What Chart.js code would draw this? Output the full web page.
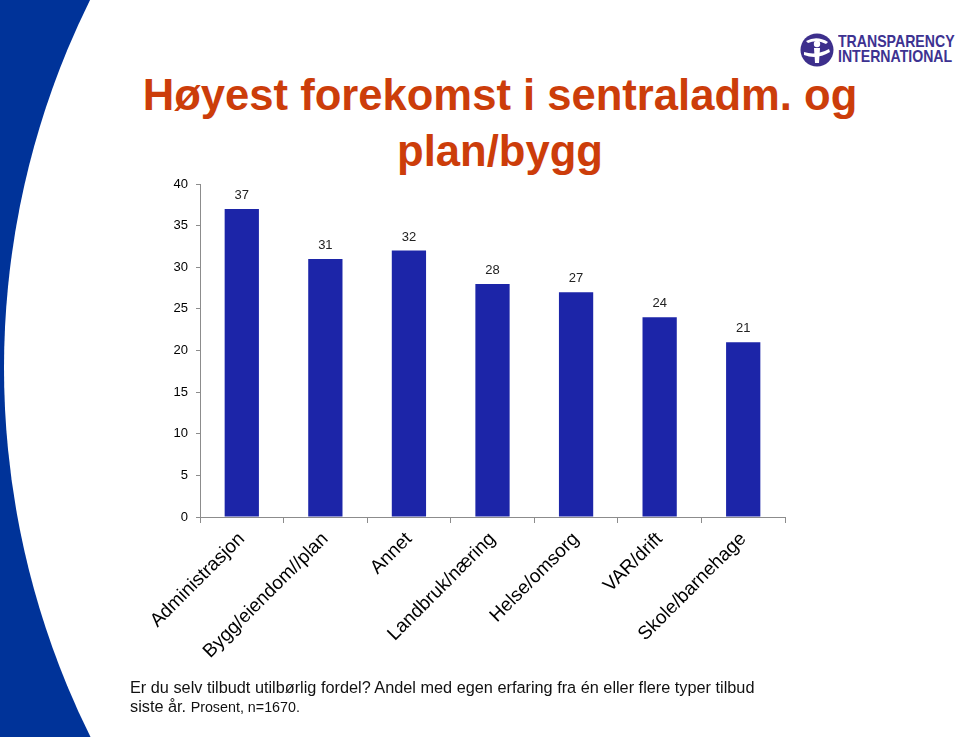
<!DOCTYPE html>
<html>
<head>
<meta charset="utf-8">
<script src="https://cdn.jsdelivr.net/npm/chart.js@4.4.1/dist/chart.umd.min.js"></script>
<style>
    body { margin: 0; background: #fff; }
    #slide { position: relative; width: 959px; height: 737px; overflow: hidden; font-family: "Liberation Sans", Arial, sans-serif; }
    #bg { position: absolute; left: 0; top: 0; }
    #chartBox { position: absolute; left: 0; top: 0; width: 959px; height: 737px; }
    #title { position: absolute; left: 100px; width: 800px; top: 67px; text-align: center; color: #cc3d0a; font-weight: bold; font-size: 43.6px; line-height: 56px; }
    #note { position: absolute; left: 130px; top: 678px; font-size: 16.3px; line-height: 19px; color: #111; }
    #note .small { font-size: 14.3px; }
    #logo { position: absolute; left: 800px; top: 33px; }
    #logoText { position: absolute; left: 838px; top: 34px; color: #3d3291; font-weight: bold; font-size: 17px; line-height: 15px; transform: scaleX(0.83); transform-origin: left top; white-space: nowrap; }
</style>
</head>
<body>
<div id="slide">
    <svg id="bg" width="959" height="737">
        <rect x="0" y="0" width="200" height="737" fill="#003399"/>
        <circle cx="834" cy="368" r="830" fill="#fff"/>
    </svg>
    <svg id="logo" width="34" height="34" viewBox="0 0 34 34">
        <circle cx="17" cy="17" r="16.5" fill="#3d2f8c"/>
        <path d="M6 8 Q17 2 28 9 L26 11 Q17 6 8 10 Z" fill="#fff"/>
        <circle cx="17" cy="11" r="3.2" fill="#fff"/>
        <path d="M14 15 L20 15 L19 30 L15 30 Z" fill="#fff"/>
        <path d="M4 19 Q16 23 29 16 L30 19 Q17 27 4 22 Z" fill="#fff"/>
    </svg>
    <div id="logoText">TRANSPARENCY<br>INTERNATIONAL</div>
    <div id="title">Høyest forekomst i sentraladm. og<br>plan/bygg</div>
    <div id="chartBox"><canvas id="myChart"></canvas></div>
    <div id="note">Er du selv tilbudt utilbørlig fordel? Andel med egen erfaring fra én eller flere typer tilbud<br>siste år. <span class="small">Prosent, n=1670.</span></div>
</div>
<script>
    //chart data
    const labels = [
        'Administrasjon',
        'Bygg/eiendom//plan',
        'Annet',
        'Landbruk/næring',
        'Helse/omsorg',
        'VAR/drift',
        'Skole/barnehage'
    ];
    const values = [37, 31, 32, 28, 27, 24, 21];
    const yTicks = [0, 5, 10, 15, 20, 25, 30, 35, 40];

    const barColor = "#1c25a8";
    const axisColor = "#8c8c8c";
    const fontFamily = '"Liberation Sans", Arial, sans-serif';

    //draws the value above every bar
    const valueLabels = {
        id: 'valueLabels',
        afterDatasetsDraw(chart) {
            const ctx = chart.ctx;
            const meta = chart.getDatasetMeta(0);
            ctx.save();
            ctx.font = '13px ' + fontFamily;
            ctx.fillStyle = '#222';
            ctx.textAlign = 'center';
            ctx.textBaseline = 'bottom';
            meta.data.forEach((bar, i) => {
                ctx.fillText(values[i], bar.x, bar.y - 7);
            });
            ctx.restore();
        }
    };

    const data = {
        labels: labels,
        datasets: [{
            data: values,
            backgroundColor: barColor,
            borderWidth: 0,
            categoryPercentage: 1,
            barPercentage: 0.41
        }]
    };

    const config = {
        type: 'bar',
        data,
        options: {
            responsive: false,
            animation: false,
            layout: {
                padding: { left: 160, right: 174, top: 184, bottom: 0 }
            },
            plugins: {
                legend: { display: false },
                tooltip: { enabled: false }
            },
            scales: {
                x: {
                    offset: true,
                    afterFit(scale) { scale.height = 220; },
                    grid: { display: true, drawOnChartArea: false, tickLength: 6, color: axisColor, offset: true },
                    border: { color: axisColor },
                    ticks: {
                        autoSkip: false,
                        minRotation: 45,
                        maxRotation: 45,
                        padding: 5,
                        color: '#000',
                        font: { family: fontFamily, size: 19 }
                    }
                },
                y: {
                    min: 0,
                    max: 40,
                    afterFit(scale) { scale.width = 40; },
                    afterBuildTicks(scale) { scale.ticks = yTicks.map(v => ({ value: v })); },
                    grid: { display: true, drawOnChartArea: false, tickLength: 4, color: axisColor },
                    border: { color: axisColor },
                    ticks: {
                        padding: 8,
                        color: '#000',
                        font: { family: fontFamily, size: 13 }
                    }
                }
            }
        },
        plugins: [valueLabels]
    };

    const canvas = document.getElementById('myChart');
    canvas.width = 959;
    canvas.height = 737;
    new Chart(canvas, config);
</script>
</body>
</html>
